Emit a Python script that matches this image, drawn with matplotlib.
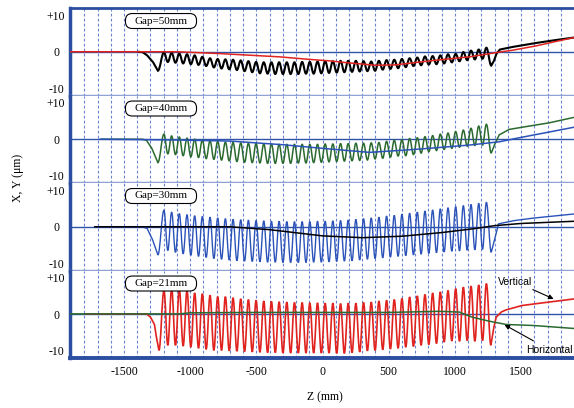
import numpy as np
import matplotlib.pyplot as plt
from matplotlib.path import Path
from matplotlib.patches import PathPatch, FancyBboxPatch

# posiciones de picos y valles (mm) a lo largo del ondulador
PERIODO = 58.0
z_picos = -1198 + PERIODO * np.arange(43)
z_valles = -1169 + PERIODO * np.arange(42)

# ---- Gap=50mm : oscilante (negro) y suave (rojo)
g50_entrada = [(-1400, 0.0), (-1360, -0.1), (-1325, -1.0), (-1280, -2.9), (-1244, -5.2)]
g50_picos = [-0.2, -0.3, -0.5, -0.7, -1.0, -1.4, -1.8, -2.0, -2.1, -2.2, -2.4, -2.6, -2.8, -2.9, -2.9,
             -2.9, -2.9, -2.9, -2.8, -2.8, -2.7, -2.6, -2.6, -2.5, -2.5, -2.5, -2.6, -2.7, -2.5, -2.3,
             -2.2, -2.0, -1.8, -1.6, -1.3, -1.2, -1.0, -0.7, -0.6, -0.1, 0.3, 0.6, 1.1]
g50_valles = [-2.8, -3.0, -3.2, -3.4, -3.6, -3.9, -4.3, -4.6, -4.8, -5.0, -5.3, -5.6, -5.9, -6.0,
              -6.1, -6.1, -6.1, -6.1, -6.0, -6.0, -5.9, -5.8, -5.7, -5.6, -5.5, -5.4, -5.3, -5.2,
              -4.9, -4.7, -4.5, -4.2, -3.9, -3.7, -3.5, -3.4, -3.2, -2.9, -2.6, -2.3, -2.1, -1.9]
g50_salida = [(1275, -3.8), (1295, -2.5), (1315, -0.5), (1340, 0.6), (1433, 1.3), (1613, 2.4),
              (1760, 3.2), (1900, 3.9)]
g50_suave_z = [-1908, -1100, -777, -324, -98, 53, 181, 400, 550, 860, 1108, 1250, 1335, 1433, 1613, 1760, 1900]
g50_suave_v = [0.0, 0.0, -0.5, -1.4, -2.1, -2.5, -3.0, -3.7, -3.6, -2.3, -1.4, -0.6, -0.1, 0.4, 1.6, 2.8, 3.9]

# ---- Gap=40mm : oscilante (verde) y suave (azul)
g40_entrada = [(-1680, 0.0), (-1360, 0.0), (-1330, -0.3), (-1290, -2.5), (-1244, -6.4)]
g40_picos = [1.4, 0.9, 0.6, 0.3, 0.0, -0.2, -0.4, -0.6, -0.8, -0.9, -1.0, -1.1, -1.2, -1.3, -1.3,
             -1.4, -1.4, -1.4, -1.4, -1.4, -1.4, -1.3, -1.3, -1.2, -1.2, -1.1, -1.1, -1.0, -0.9, -0.6,
             -0.3, -0.1, 0.2, 0.4, 0.7, 1.0, 1.4, 1.7, 2.1, 2.5, 3.0, 3.6, 4.1]
g40_valles = [-4.0, -4.2, -4.5, -4.8, -5.0, -5.3, -5.5, -5.7, -5.9, -6.1, -6.3, -6.4, -6.5, -6.6,
              -6.6, -6.6, -6.6, -6.5, -6.5, -6.4, -6.3, -6.2, -6.1, -6.0, -5.9, -5.8, -5.7, -5.4,
              -5.2, -4.9, -4.6, -4.5, -4.2, -3.8, -3.4, -3.1, -2.8, -2.5, -2.2, -1.9, -1.7, -1.6]
g40_salida = [(1275, -3.8), (1300, -1.5), (1335, 1.2), (1410, 2.7), (1560, 3.6), (1712, 4.5), (1900, 6.0)]
g40_suave_z = [-1680, -1100, -700, -300, 0, 355, 732, 1108, 1335, 1485, 1687, 1900]
g40_suave_v = [0.0, -0.2, -0.5, -1.5, -2.5, -3.6, -2.7, -1.6, -0.7, 0.4, 1.8, 3.3]

# ---- Gap=30mm : oscilante (azul) y suave (negro)
g30_entrada = [(-1720, 0.0), (-1360, 0.0), (-1325, -0.5), (-1285, -3.5), (-1244, -7.7)]
g30_picos = [4.5, 4.0, 3.6, 3.3, 3.0, 2.8, 2.6, 2.4, 2.2, 2.0, 1.9, 1.8, 1.7, 1.6, 1.5,
             1.5, 1.4, 1.4, 1.4, 1.4, 1.5, 1.5, 1.6, 1.7, 1.8, 2.0, 2.2, 2.4, 2.6, 2.9,
             3.1, 3.4, 3.7, 4.0, 4.3, 4.6, 4.9, 5.2, 5.5, 5.8, 6.1, 6.4, 6.7]
g30_valles = [-6.5, -7.0, -7.4, -7.8, -8.1, -8.4, -8.7, -8.9, -9.1, -9.3, -9.4, -9.5, -9.6, -9.7,
              -9.7, -9.8, -9.8, -9.8, -9.8, -9.7, -9.7, -9.6, -9.5, -9.4, -9.3, -9.1, -8.9, -8.7,
              -8.5, -8.3, -8.1, -7.9, -7.7, -7.5, -7.3, -7.1, -6.9, -6.7, -6.6, -6.4, -6.3, -6.2]
g30_salida = [(1275, -7.0), (1300, -3.5), (1330, 0.8), (1450, 1.7), (1600, 2.4), (1900, 3.5)]
g30_suave_z = [-1720, -700, -400, 0, 300, 600, 900, 1150, 1300, 1500, 1900]
g30_suave_v = [0.0, 0.0, -0.8, -2.5, -3.0, -2.6, -1.6, -0.5, 0.3, 0.9, 1.5]

# ---- Gap=21mm : oscilante (rojo, vertical) y suave (verde, horizontal)
g21_entrada = [(-1800, 0.1), (-1330, 0.1), (-1300, -0.8), (-1270, -2.8), (-1255, -6.3), (-1236, -9.9)]
g21_picos = [6.5, 7.0, 6.8, 6.5, 5.8, 5.6, 5.2, 4.8, 4.8, 4.5, 4.2, 4.0, 3.8, 3.6, 3.5,
             3.4, 3.3, 3.2, 3.2, 3.1, 3.1, 3.0, 3.0, 2.9, 3.0, 3.0, 3.2, 3.3, 3.6, 3.8,
             4.0, 4.3, 4.7, 5.0, 5.4, 5.8, 6.1, 6.5, 7.0, 7.4, 7.7, 8.0, 8.4]
g21_valles = [-8.5, -8.5, -8.7, -9.0, -9.3, -9.6, -9.9, -9.9, -10.0, -10.1, -10.2, -10.3, -10.4, -10.5,
              -10.5, -10.6, -10.6, -10.6, -10.6, -10.6, -10.6, -10.6, -10.7, -10.7, -10.5, -10.3, -10.0, -9.9,
              -9.7, -9.5, -9.3, -9.0, -8.8, -8.5, -8.3, -8.0, -7.6, -7.3, -7.4, -7.2, -7.4, -7.2]
g21_salida = [(1272, -8.5), (1295, -3.5), (1312, -0.8), (1350, 0.6), (1387, 1.2), (1508, 2.4),
              (1636, 3.0), (1900, 4.2)]
g21_suave_z = [-1908, -1080, -1000, -500, 0, 500, 880, 1033, 1131, 1259, 1387, 1600, 1900]
g21_suave_v = [0.1, 0.1, 0.4, 0.5, 0.5, 0.5, 0.8, 0.6, -0.8, -1.9, -2.8, -3.1, -3.9]

# rotulos de cada panel
gaps = ["Gap=50mm", "Gap=40mm", "Gap=30mm", "Gap=21mm"]

ROJO = "#e0231f"
VERDE = "#2b6a2f"
AZUL = "#2a52b8"
NEGRO = "black"


def trayectoria(entrada, picos, valles, salida):
    # tramo de entrada y salida en linea recta, oscilacion con curvas de Bezier
    # con tangente horizontal en cada pico y valle
    extremos = [entrada[-1]]
    for i in range(len(picos)):
        extremos.append((z_picos[i], picos[i]))
        if i < len(valles):
            extremos.append((z_valles[i], valles[i]))
    extremos.append(salida[0])

    verts = list(entrada)
    codes = [Path.MOVETO] + [Path.LINETO] * (len(entrada) - 1)
    for (za, va), (zb, vb) in zip(extremos[:-1], extremos[1:]):
        d = (zb - za) * 0.38
        verts += [(za + d, va), (zb - d, vb), (zb, vb)]
        codes += [Path.CURVE4] * 3
    verts += list(salida[1:])
    codes += [Path.LINETO] * (len(salida) - 1)
    return Path(verts, codes)


paneles = [
    (trayectoria(g50_entrada, g50_picos, g50_valles, g50_salida), NEGRO, (g50_suave_z, g50_suave_v), ROJO, 1.5),
    (trayectoria(g40_entrada, g40_picos, g40_valles, g40_salida), VERDE, (g40_suave_z, g40_suave_v), AZUL, 1.1),
    (trayectoria(g30_entrada, g30_picos, g30_valles, g30_salida), AZUL, (g30_suave_z, g30_suave_v), NEGRO, 1.0),
    (trayectoria(g21_entrada, g21_picos, g21_valles, g21_salida), ROJO, (g21_suave_z, g21_suave_v), VERDE, 1.2),
]

plt.rcParams['font.family'] = ['Liberation Serif', 'DejaVu Serif']

fig = plt.figure(figsize=(5.74, 4.08), dpi=100)
gs = fig.add_gridspec(4, 1, left=70 / 574, right=1.0, top=1 - 8 / 408, bottom=1 - 358 / 408, hspace=0)
ejes = [fig.add_subplot(gs[i]) for i in range(4)]

for i, (ax, (camino, c_osc, (zs, vs), c_suave, lw)) in enumerate(zip(ejes, paneles)):
    ax.set_xlim(-1908, 1900)
    ax.set_ylim(-12, 12)

    # rejilla vertical cada 100 mm
    for zg in range(-1800, 1900, 100):
        ax.axvline(zg, color="#3558c0", lw=0.8, ls=(0, (2.5, 2)), alpha=0.75, zorder=1)
    ax.axhline(0, color="#2f52a8", lw=1.0, zorder=2)

    ax.add_patch(PathPatch(camino, fill=False, edgecolor=c_osc, lw=lw, zorder=3))
    ax.plot(zs, vs, color=c_suave, lw=1.1, zorder=4)

    # etiqueta del gap dentro de una caja redondeada
    cx, cy = 91 / 504, 1 - 13 / 87.5
    caja = FancyBboxPatch((cx - 0.0705, cy - 0.0857), 0.141, 0.171,
                          boxstyle="round,pad=0,rounding_size=0.0135", mutation_aspect=504 / 87.5,
                          transform=ax.transAxes, fc="white", ec="black", lw=0.8, zorder=6)
    ax.add_patch(caja)
    ax.text(cx, cy, gaps[i], transform=ax.transAxes, ha="center", va="center",
            fontsize=8, zorder=7)

    ax.set_yticks([10, 0, -10])
    ax.set_yticklabels(["+10", "0", "-10"], fontsize=8.5)
    for lbl in ax.get_yticklabels():
        lbl.set_horizontalalignment("center")
    ax.tick_params(axis="y", length=0, pad=10)

    ax.spines["right"].set_visible(False)
    ax.spines["left"].set_color("#2b4ea0")
    ax.spines["left"].set_linewidth(2.5)
    if i == 0:
        ax.spines["top"].set_color("#2b4ea0")
        ax.spines["top"].set_linewidth(2)
    else:
        ax.spines["top"].set_visible(False)
    if i < 3:
        ax.spines["bottom"].set_color("#8fa2d2")
        ax.spines["bottom"].set_linewidth(2.5)
        ax.tick_params(axis="x", length=0, labelbottom=False)
    else:
        ax.spines["bottom"].set_color("#2b4ea0")
        ax.spines["bottom"].set_linewidth(2.8)
        ax.set_xticks([-1500, -1000, -500, 0, 500, 1000, 1500])
        ax.set_xticklabels(["-1500", "-1000", "-500", "0", "500", "1000", "1500"], fontsize=8.5)
        ax.tick_params(axis="x", length=0, pad=6)

# flechas que identifican cada plano en el ultimo panel
ax4 = ejes[3]
ax4.annotate("Vertical", xy=(1746, 4.2), xytext=(1458, 8.9), ha="center", va="center",
             fontsize=7.5, family="Liberation Sans", zorder=7,
             arrowprops=dict(arrowstyle="-|>", color="black", lw=0.8, mutation_scale=7,
                             shrinkA=18, shrinkB=0))
ax4.annotate("Horizontal", xy=(1375, -2.9), xytext=(1542, -9.8), ha="left", va="center",
             fontsize=7.5, family="Liberation Sans", zorder=7,
             arrowprops=dict(arrowstyle="-|>", color="black", lw=0.8, mutation_scale=7,
                             shrinkA=2, shrinkB=0))

fig.text(325 / 574, 1 - 397 / 408, "Z (mm)", ha="center", va="center", fontsize=8.5)
fig.text(18 / 574, 1 - 178 / 408, "X, Y (μm)", ha="center", va="center", rotation=90, fontsize=8.5)

fig.savefig("out.png", dpi=100)
